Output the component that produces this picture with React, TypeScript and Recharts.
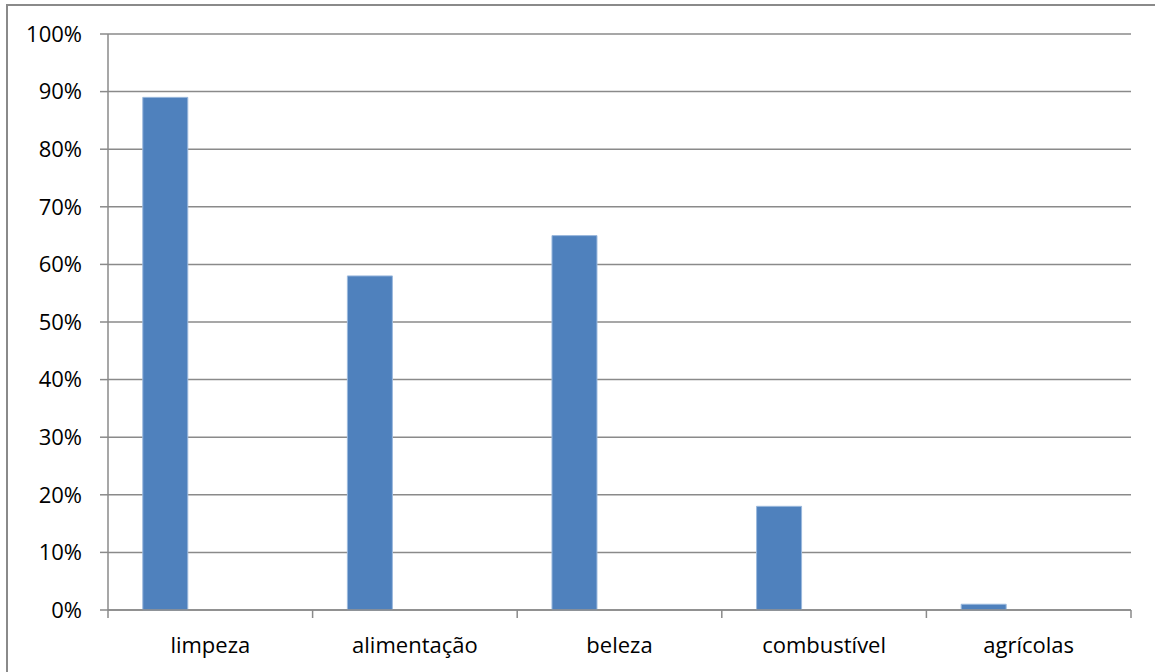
import { Bar, BarChart, CartesianGrid, XAxis, YAxis } from "recharts";

const categories = ["limpeza", "alimentação", "beleza", "combustível", "agrícolas"];
const seriesValues = [0.89, 0.58, 0.65, 0.18, 0.01];
const yTicks = [0, 0.1, 0.2, 0.3, 0.4, 0.5, 0.6, 0.7, 0.8, 0.9, 1];

const data = categories.map((name, i) => ({
  name,
  s1: seriesValues[i],
  s2: null,
  s3: null,
}));

const W = 1155;
const H = 672;
const margin = { top: 34, right: 24, bottom: 0, left: 8 };
const yAxisWidth = 100;
const plotWidth = W - margin.left - margin.right - yAxisWidth;
const band = plotWidth / categories.length;

const GRAY = "#8a8a8a";
const FONT = "'Open Sans', sans-serif";

const formatPct = (v: number) => `${Math.round(v * 100)}%`;

function CategoryTick(props: any) {
  const { x, y, payload, index } = props;
  const left = x - band / 2;
  return (
    <g>
      <line x1={left} y1={y - 8} x2={left} y2={y} stroke={GRAY} strokeWidth={1.5} />
      {index === categories.length - 1 && (
        <line x1={left + band} y1={y - 8} x2={left + band} y2={y} stroke={GRAY} strokeWidth={1.5} />
      )}
      <text x={x} y={y + 35} textAnchor="middle" fill="#000" fontFamily={FONT} fontSize={22}>
        {payload.value}
      </text>
    </g>
  );
}

export default function App() {
  return (
    <div style={{ position: "absolute", left: 0, top: 0, width: W, height: H, background: "#fff" }}>
      <div
        style={{
          position: "absolute",
          left: 6,
          top: 4,
          right: 0,
          bottom: 0,
          borderLeft: `2px solid ${GRAY}`,
          borderTop: `2px solid ${GRAY}`,
        }}
      />
      <div style={{ position: "absolute", left: 0, top: 0 }}>
        <BarChart
          width={W}
          height={H}
          data={data}
          margin={margin}
          barCategoryGap="17%"
          barGap={0}
        >
          <CartesianGrid vertical={false} stroke={GRAY} strokeWidth={1.5} />
          <XAxis
            dataKey="name"
            height={62}
            axisLine={{ stroke: GRAY, strokeWidth: 1.5 }}
            tickLine={false}
            interval={0}
            tick={<CategoryTick />}
          />
          <YAxis
            width={yAxisWidth}
            domain={[0, 1]}
            ticks={yTicks}
            tickFormatter={formatPct}
            axisLine={{ stroke: GRAY, strokeWidth: 1.5 }}
            tickLine={{ stroke: GRAY, strokeWidth: 1.5 }}
            tickSize={8}
            tickMargin={18}
            tick={{ fill: "#000", fontFamily: FONT, fontSize: 22 }}
            interval={0}
          />
          <Bar dataKey="s1" fill="#4f81bd" stroke="#9bb9dd" strokeWidth={1} isAnimationActive={false} />
          <Bar dataKey="s2" fill="#c0504d" isAnimationActive={false} />
          <Bar dataKey="s3" fill="#9bbb59" isAnimationActive={false} />
        </BarChart>
      </div>
    </div>
  );
}
